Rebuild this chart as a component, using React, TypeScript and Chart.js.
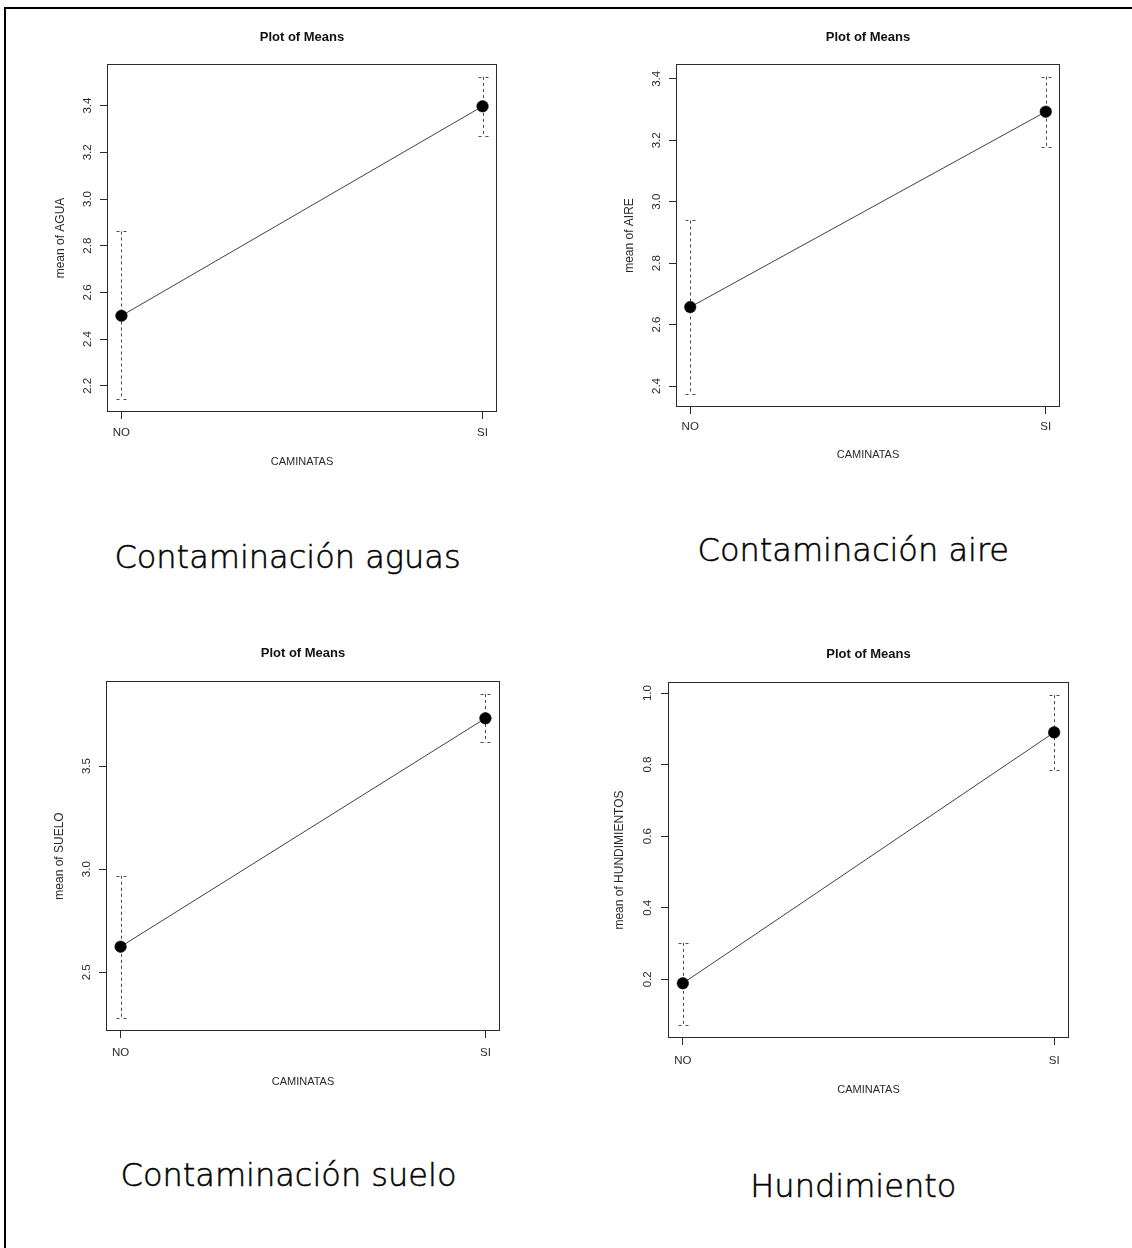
import React, { useEffect, useRef } from "react";
import { Chart, registerables } from "chart.js";

Chart.register(...registerables);

// ---------- data ----------
const categories = ["NO", "SI"];
const categoryPositions = [1, 2];

const aguaMeans = [2.5, 3.397];
const aguaLower = [2.143, 3.271];
const aguaUpper = [2.861, 3.523];
const aguaTicks = [2.2, 2.4, 2.6, 2.8, 3.0, 3.2, 3.4];
const aguaTickLabels = ["2.2", "2.4", "2.6", "2.8", "3.0", "3.2", "3.4"];

const aireMeans = [2.657, 3.293];
const aireLower = [2.373, 3.179];
const aireUpper = [2.939, 3.407];
const aireTicks = [2.4, 2.6, 2.8, 3.0, 3.2, 3.4];
const aireTickLabels = ["2.4", "2.6", "2.8", "3.0", "3.2", "3.4"];

const sueloMeans = [2.624, 3.732];
const sueloLower = [2.278, 3.616];
const sueloUpper = [2.968, 3.85];
const sueloTicks = [2.5, 3.0, 3.5];
const sueloTickLabels = ["2.5", "3.0", "3.5"];

const hundMeans = [0.189, 0.89];
const hundLower = [0.073, 0.786];
const hundUpper = [0.302, 0.994];
const hundTicks = [0.2, 0.4, 0.6, 0.8, 1.0];
const hundTickLabels = ["0.2", "0.4", "0.6", "0.8", "1.0"];

const panelTitle = "Plot of Means";
const xAxisTitle = "CAMINATAS";
const yAxisTitles = ["mean of AGUA", "mean of AIRE", "mean of SUELO", "mean of HUNDIMIENTOS"];
const captions = ["Contaminación aguas", "Contaminación aire", "Contaminación suelo", "Hundimiento"];

// ---------- layout ----------
const ML = 70, MT = 50, MR = 20, MB = 70;
const TICK_LEN = 7;
const TITLE_SIZE = 13;
const YTITLE_SIZE = 12;
const TICK_SIZE = 11.5;
const XTITLE_SIZE = 11;
const CAPTION_SIZE = 32;
const CAPTION_BASELINE = 27.1;
const FONT = "'Liberation Sans', Arial, Helvetica, sans-serif";

type Spec = {
  means: number[]; lower: number[]; upper: number[]; ticks: number[]; tickLabels: string[];
  yTitle: string; caption: string;
  box: number[]; titleY: number; yTitleX: number; yTickX: number; xLabelY: number; xTitleY: number;
  capX: number; capBase: number;
};

const PANELS: Spec[] = [
  { means: aguaMeans, lower: aguaLower, upper: aguaUpper, ticks: aguaTicks, tickLabels: aguaTickLabels,
    yTitle: yAxisTitles[0], caption: captions[0],
    box: [107, 64, 497, 412], titleY: 37, yTitleX: 60.7, yTickX: 88.3, xLabelY: 433, xTitleY: 461.7,
    capX: 287.5, capBase: 568 },
  { means: aireMeans, lower: aireLower, upper: aireUpper, ticks: aireTicks, tickLabels: aireTickLabels,
    yTitle: yAxisTitles[1], caption: captions[1],
    box: [676, 64, 1060, 407], titleY: 37, yTitleX: 630, yTickX: 656.7, xLabelY: 427.3, xTitleY: 455,
    capX: 853.3, capBase: 560.7 },
  { means: sueloMeans, lower: sueloLower, upper: sueloUpper, ticks: sueloTicks, tickLabels: sueloTickLabels,
    yTitle: yAxisTitles[2], caption: captions[2],
    box: [106, 681, 500, 1031], titleY: 653.3, yTitleX: 59.3, yTickX: 86.7, xLabelY: 1053.3, xTitleY: 1081.7,
    capX: 288.5, capBase: 1186 },
  { means: hundMeans, lower: hundLower, upper: hundUpper, ticks: hundTicks, tickLabels: hundTickLabels,
    yTitle: yAxisTitles[3], caption: captions[3],
    box: [668, 682, 1069, 1038], titleY: 654, yTitleX: 620, yTickX: 648.3, xLabelY: 1060.7, xTitleY: 1090,
    capX: 853.3, capBase: 1196.7 },
];

function MeansPanel({ spec }: { spec: Spec }) {
  const ref = useRef<HTMLCanvasElement>(null);
  const [bl, bt, br, bb] = spec.box;
  const cl = bl - ML, ct = bt - MT;
  const cw = br - bl + ML + MR, ch = bb - bt + MT + MB;

  useEffect(() => {
    if (!ref.current) return;
    const lo = Math.min(...spec.lower), hi = Math.max(...spec.upper);
    const ext = (hi - lo) * 0.04;
    const xLo = Math.min(...categoryPositions), xHi = Math.max(...categoryPositions);
    const xExt = (xHi - xLo) * 0.04;

    const titleLH = TITLE_SIZE * 1.2;
    const titlePadTop = spec.titleY - ct - titleLH / 2;
    const titlePadBottom = MT - titleLH - titlePadTop;
    const yTitlePadTop = spec.yTitleX - cl - (YTITLE_SIZE * 1.2) / 2;
    const yTickPad = bl - spec.yTickX - TICK_LEN - 8;
    const xTickPad = spec.xLabelY - bb - TICK_LEN - (TICK_SIZE * 1.2) / 2;
    const xTitlePadBottom = bb + MB - (XTITLE_SIZE * 1.2) / 2 - spec.xTitleY;

    const framePlugin = {
      id: "frameAndErrors",
      beforeDatasetsDraw(chart: any) {
        const { ctx, chartArea } = chart;
        const xs = chart.scales.x, ys = chart.scales.y;
        ctx.save();
        ctx.strokeStyle = "#2a2a2a";
        ctx.lineWidth = 1;
        ctx.setLineDash([]);
        ctx.strokeRect(chartArea.left + 0.5, chartArea.top + 0.5,
          chartArea.right - chartArea.left - 1, chartArea.bottom - chartArea.top - 1);
        ctx.strokeStyle = "#4a4a4a";
        categoryPositions.forEach((pos, i) => {
          const px = Math.round(xs.getPixelForValue(pos)) + 0.5;
          const yl = ys.getPixelForValue(spec.lower[i]);
          const yu = ys.getPixelForValue(spec.upper[i]);
          ctx.setLineDash([3, 3]);
          ctx.beginPath();
          ctx.moveTo(px, yu);
          ctx.lineTo(px, yl);
          ctx.stroke();
          ctx.setLineDash([3, 4]);
          [yl, yu].forEach((yy) => {
            const y0 = Math.round(yy) + 0.5;
            ctx.beginPath();
            ctx.moveTo(px - 5, y0);
            ctx.lineTo(px + 5, y0);
            ctx.stroke();
          });
        });
        ctx.restore();
      },
    };

    const gridOpts = {
      display: true,
      drawOnChartArea: false,
      drawTicks: true,
      tickLength: TICK_LEN,
      tickColor: "#2a2a2a",
      color: "#2a2a2a",
      tickWidth: 1,
    };

    const chart = new Chart(ref.current, {
      type: "line",
      data: {
        datasets: [
          {
            data: categoryPositions.map((x, i) => ({ x, y: spec.means[i] })),
            borderColor: "#404040",
            borderWidth: 1,
            pointRadius: 5.8,
            pointBackgroundColor: "#000",
            pointBorderColor: "#000",
            pointBorderWidth: 0.5,
            fill: false,
            tension: 0,
          },
        ],
      },
      options: {
        responsive: false,
        animation: false,
        devicePixelRatio: 1,
        layout: { padding: { left: 0, top: 0, right: MR, bottom: 0 } },
        plugins: {
          legend: { display: false },
          tooltip: { enabled: false },
          title: {
            display: true,
            text: panelTitle,
            fullSize: false,
            color: "#111",
            font: { family: FONT, size: TITLE_SIZE, weight: "bold" },
            padding: { top: titlePadTop, bottom: titlePadBottom },
          },
        },
        scales: {
          x: {
            type: "linear",
            min: xLo - xExt,
            max: xHi + xExt,
            afterBuildTicks: (s: any) => {
              s.ticks = categoryPositions.map((v) => ({ value: v }));
            },
            afterFit: (s: any) => {
              s.height = MB;
            },
            ticks: {
              callback: (_v: any, i: number) => categories[i],
              autoSkip: false,
              maxRotation: 0,
              minRotation: 0,
              padding: xTickPad,
              color: "#2a2a2a",
              font: { family: FONT, size: TICK_SIZE },
            },
            grid: gridOpts,
            border: { display: false },
            title: {
              display: true,
              text: xAxisTitle,
              color: "#2a2a2a",
              font: { family: FONT, size: XTITLE_SIZE },
              padding: { top: 0, bottom: xTitlePadBottom },
            },
          },
          y: {
            type: "linear",
            min: lo - ext,
            max: hi + ext,
            afterBuildTicks: (s: any) => {
              s.ticks = spec.ticks.map((v) => ({ value: v }));
            },
            afterFit: (s: any) => {
              s.width = ML;
            },
            ticks: {
              callback: (_v: any, i: number) => spec.tickLabels[i],
              autoSkip: false,
              minRotation: 90,
              maxRotation: 90,
              crossAlign: "center",
              padding: yTickPad,
              color: "#2a2a2a",
              font: { family: FONT, size: TICK_SIZE },
            },
            grid: gridOpts,
            border: { display: false },
            title: {
              display: true,
              text: spec.yTitle,
              color: "#2a2a2a",
              font: { family: FONT, size: YTITLE_SIZE },
              padding: { top: yTitlePadTop, bottom: 0 },
            },
          },
        },
      } as any,
      plugins: [framePlugin],
    });
    return () => chart.destroy();
  }, []);

  return (
    <canvas
      ref={ref}
      width={cw}
      height={ch}
      style={{ position: "absolute", left: cl, top: ct, width: cw, height: ch }}
    />
  );
}

export default function App() {
  return (
    <div
      style={{
        position: "absolute",
        left: 0,
        top: 0,
        width: 1132,
        height: 1248,
        overflow: "hidden",
        background: "#fff",
      }}
    >
      <div
        style={{
          position: "absolute",
          left: 4,
          top: 7,
          width: 1200,
          height: 1300,
          borderTop: "2px solid #000",
          borderLeft: "2px solid #000",
        }}
      />
      {PANELS.map((p, i) => (
        <MeansPanel key={i} spec={p} />
      ))}
      {PANELS.map((p, i) => (
        <div
          key={"cap" + i}
          style={{
            position: "absolute",
            left: p.capX - 300,
            width: 600,
            top: p.capBase - CAPTION_BASELINE,
            textAlign: "center",
            fontFamily: "'DejaVu Sans', sans-serif",
            fontWeight: 300,
            fontSize: CAPTION_SIZE,
            lineHeight: CAPTION_SIZE + "px",
            color: "#000",
            WebkitTextStroke: "0.5px #000",
            whiteSpace: "nowrap",
          }}
        >
          {p.caption}
        </div>
      ))}
    </div>
  );
}
